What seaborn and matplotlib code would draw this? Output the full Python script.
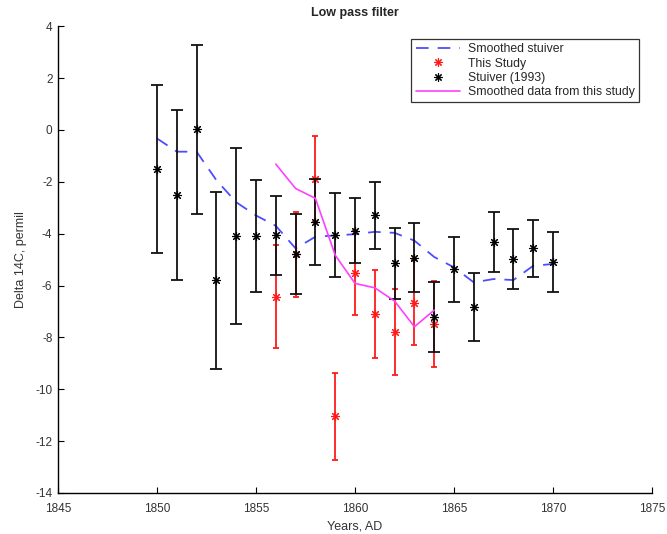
import matplotlib
matplotlib.use("Agg")
import matplotlib.pyplot as plt
from matplotlib.lines import Line2D
import seaborn as sns
import pandas as pd
import numpy as np

# ---- data ----
stuiver_years = list(range(1850, 1871))
stuiver_vals = [-1.5, -2.5, 0.02, -5.8, -4.08, -4.1, -4.07, -4.78, -3.55, -4.07, -3.88,
                -3.3, -5.15, -4.92, -7.2, -5.37, -6.83, -4.32, -4.98, -4.56, -5.1]
stuiver_err = [3.25, 3.27, 3.27, 3.4, 3.4, 2.15, 1.53, 1.53, 1.66, 1.62, 1.25,
               1.3, 1.37, 1.33, 1.35, 1.25, 1.3, 1.15, 1.14, 1.1, 1.16]

study_years = list(range(1856, 1865))
study_vals = [-6.43, -4.8, -1.9, -11.05, -5.52, -7.1, -7.8, -6.67, -7.48]
study_err = [1.98, 1.65, 1.65, 1.68, 1.63, 1.7, 1.65, 1.64, 1.65]

smooth_stuiver_years = list(range(1850, 1871))
smooth_stuiver_vals = [-0.33, -0.84, -0.84, -1.94, -2.79, -3.3, -3.7, -4.57, -4.12, -4.07, -4.02,
                       -3.93, -3.97, -4.27, -4.9, -5.3, -5.88, -5.75, -5.79, -5.24, -5.17]

smooth_study_years = list(range(1856, 1865))
smooth_study_vals = [-1.32, -2.26, -2.64, -4.83, -5.92, -6.09, -6.6, -7.59, -6.95]

legend_labels = ["Smoothed stuiver", "This Study", "Stuiver (1993)", "Smoothed data from this study"]

# ---- style ----
sns.set_theme(style="white")
plt.rcParams['font.family'] = ['Liberation Sans', 'DejaVu Sans']
plt.rcParams['axes.unicode_minus'] = False
plt.rcParams['xtick.direction'] = 'in'
plt.rcParams['ytick.direction'] = 'in'

fig = plt.figure(figsize=(6.67, 5.34), dpi=100)
ax = fig.add_axes([0.087, 0.0768, 0.8905, 0.8742])

blue = '#4d4dff'
mag = '#ff40ff'
red = '#ff1a1a'
asterisk = (8, 2, 0)

df_ss = pd.DataFrame({"year": smooth_stuiver_years, "val": smooth_stuiver_vals})
df_sd = pd.DataFrame({"year": smooth_study_years, "val": smooth_study_vals})

sns.lineplot(data=df_ss, x="year", y="val", ax=ax, color=blue, lw=1.3,
             dashes=False, zorder=2).lines[-1].set_dashes((7, 5))

# This study (red)
ax.errorbar(study_years, study_vals, yerr=study_err, fmt='none', ecolor=red,
            elinewidth=1.3, capsize=2.5, capthick=1.3, zorder=3)
ax.plot(study_years, study_vals, ls='none', marker=asterisk, ms=6.5, mec=red, mew=0.8, zorder=3)

# Stuiver (black)
ax.errorbar(stuiver_years, stuiver_vals, yerr=stuiver_err, fmt='none', ecolor='#111111',
            elinewidth=1.3, capsize=4.5, capthick=1.3, zorder=4)
ax.plot(stuiver_years, stuiver_vals, ls='none', marker=asterisk, ms=6.5, mec='black', mew=0.8, zorder=4)

sns.lineplot(data=df_sd, x="year", y="val", ax=ax, color=mag, lw=1.2, zorder=5)

ax.set_xlim(1845, 1875)
ax.set_ylim(-14, 4)
ax.set_xticks(range(1845, 1876, 5))
ax.set_yticks(range(-14, 5, 2))
ax.tick_params(axis='both', which='major', left=True, bottom=True, direction='in',
               labelsize=8.5, length=4, width=0.8, color='black', labelcolor='#333333', pad=4)
ax.tick_params(axis='x', pad=7.5)
for s in ['top', 'right']:
    ax.spines[s].set_visible(False)
for s in ['left', 'bottom']:
    ax.spines[s].set_color('black')
    ax.spines[s].set_linewidth(1.0)

ax.set_title("Low pass filter", fontsize=9, fontweight='bold', pad=7)
ax.set_xlabel("Years, AD", fontsize=9, labelpad=3.5, color='#333333')
ax.set_ylabel("Delta 14C, permil", fontsize=9, labelpad=6, color='#333333')

handles = [
    Line2D([], [], color=blue, lw=1.3, dashes=(7, 5)),
    Line2D([], [], ls='none', marker=asterisk, ms=6, mec=red, mew=0.8),
    Line2D([], [], ls='none', marker=asterisk, ms=6, mec='black', mew=0.8),
    Line2D([], [], color=mag, lw=1.2),
]
leg = ax.legend(handles, legend_labels, loc='upper right', bbox_to_anchor=(0.985, 0.98),
                fontsize=8.8, frameon=True, fancybox=False, edgecolor='black',
                borderpad=0.35, labelspacing=0.18, handlelength=3.6, handletextpad=0.7,
                borderaxespad=0.3)
leg.get_frame().set_linewidth(0.9)

fig.savefig("out.png", dpi=100)
